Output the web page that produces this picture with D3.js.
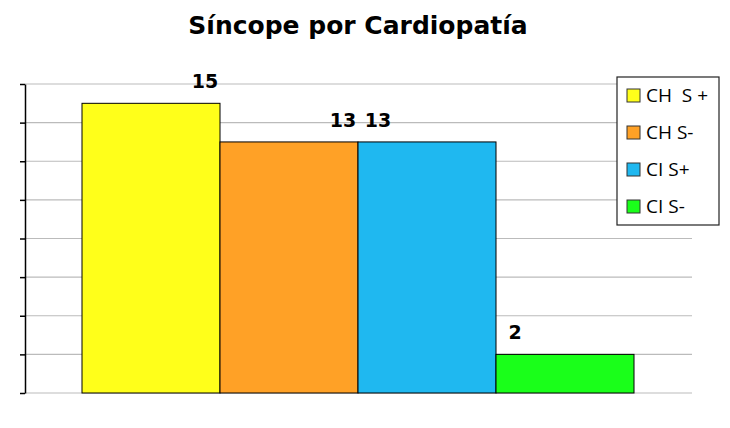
<!DOCTYPE html><html><head><script src="https://cdn.jsdelivr.net/npm/d3@7"></script>
<style>body{margin:0;background:#fff}</style></head><body><svg id="c" width="730" height="428"></svg>
<script>
const categories=["CH  S +","CH S-","CI S+","CI S-"];
const values=[15,13,13,2];
const colors=["#ffff1a","#ffa126","#1fb8f0","#1aff1a"];
const yTicks=[0,2,4,6,8,10,12,14,16];
const svg=d3.select("#c");
const x=d3.scaleBand().domain(categories).range([82,634]);
const y=d3.scaleLinear().domain([0,16]).range([393,84]);
svg.append("text").attr("x",358).attr("y",34).attr("text-anchor","middle").attr("font-family","DejaVu Sans, Verdana").attr("font-weight","bold").attr("font-size",25).text("Síncope por Cardiopatía");
svg.append("g").selectAll("line").data(yTicks).join("line").attr("x1",25).attr("x2",692).attr("y1",d=>y(d)).attr("y2",d=>y(d)).attr("stroke","#bbb").attr("stroke-width",1.2);
svg.append("g").attr("transform","translate(25,0)").call(d3.axisLeft(y).tickValues(yTicks).tickFormat("").tickSize(5).tickSizeOuter(0)).call(g=>g.selectAll("path,line").attr("stroke","#000").attr("stroke-width",1.5));
svg.append("g").selectAll("rect").data(values).join("rect").attr("x",(d,i)=>x(categories[i])).attr("width",x.bandwidth()).attr("y",d=>y(d)).attr("height",d=>y(0)-y(d)).attr("fill",(d,i)=>colors[i]).attr("stroke","#000").attr("stroke-width",1);
const lx=[205,343,378,515];
svg.append("g").selectAll("text").data(values).join("text").attr("x",(d,i)=>lx[i]).attr("y",d=>y(d)-15).attr("text-anchor","middle").attr("font-family","DejaVu Sans, Arial").attr("font-weight","bold").attr("font-size",19).text(d=>d);
const lg=svg.append("g");
lg.append("rect").attr("x",617).attr("y",77).attr("width",102).attr("height",148).attr("fill","#fff").attr("stroke","#222").attr("stroke-width",1.2);
categories.forEach((c,i)=>{const yy=95+i*37;
lg.append("rect").attr("x",627).attr("y",yy-6).attr("width",13).attr("height",13).attr("fill",colors[i]).attr("stroke","#333");
lg.append("text").attr("x",646).attr("y",yy+7).attr("font-family","Open Sans, sans-serif").attr("font-size",19).attr("xml:space","preserve").style("white-space","pre").text(c);});
</script></body></html>
